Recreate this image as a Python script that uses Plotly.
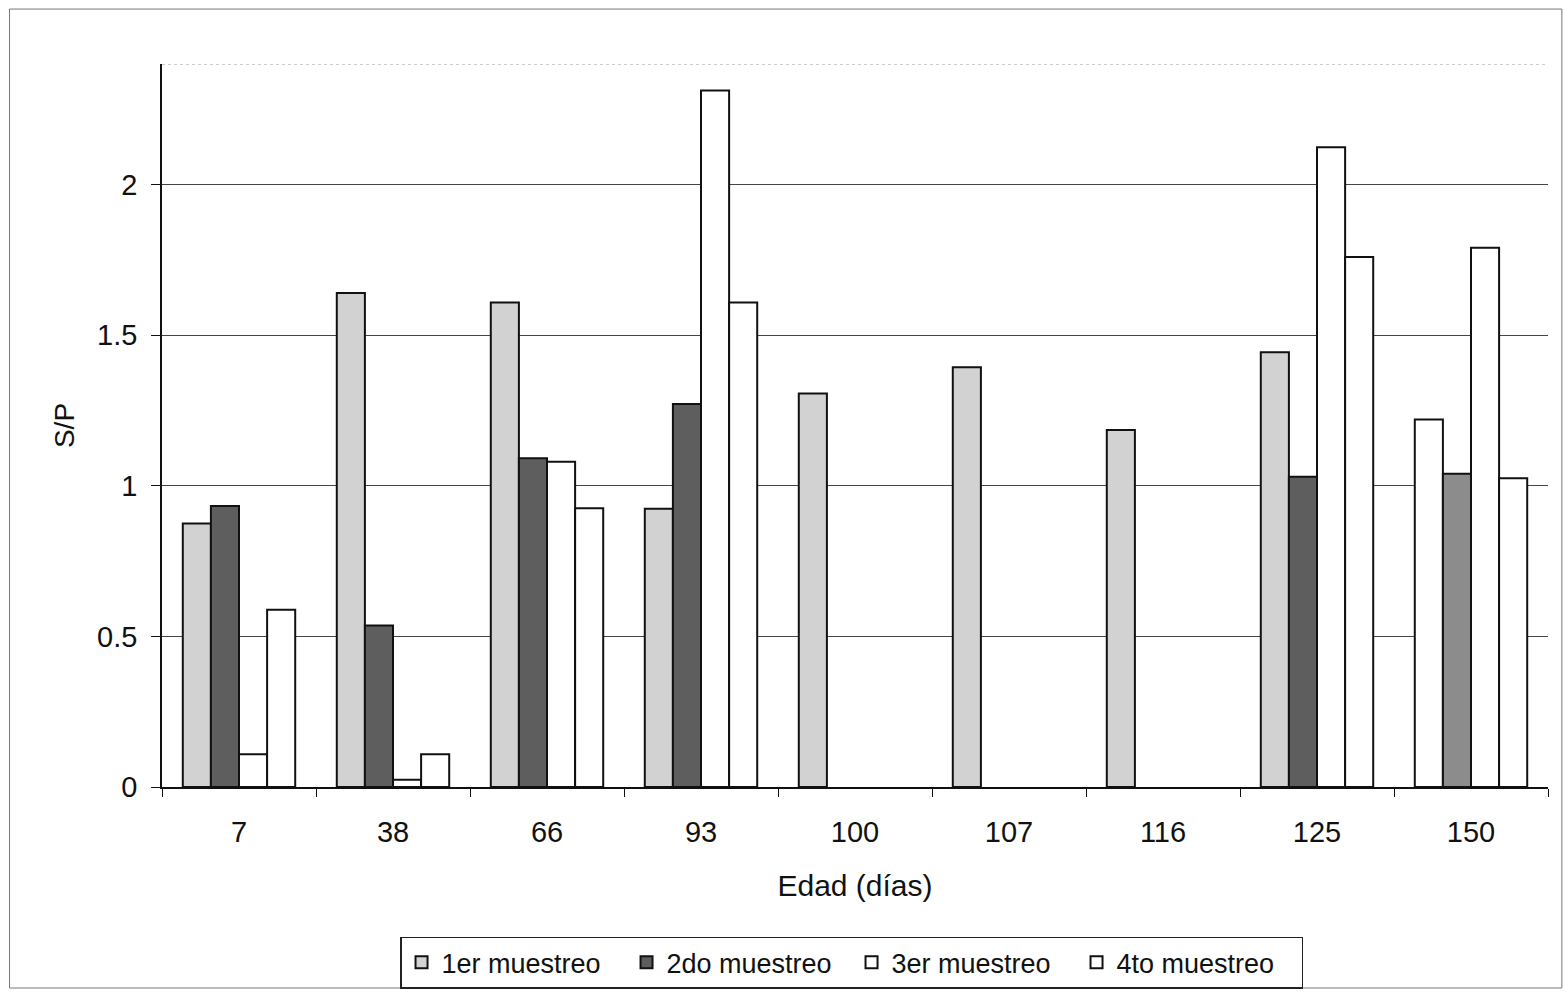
import plotly.graph_objects as go

categories = ["7", "38", "66", "93", "100", "107", "116", "125", "150"]
muestreo1 = [0.875, 1.640, 1.608, 0.924, 1.306, 1.393, 1.185, 1.443, 1.220]
muestreo2 = [0.933, 0.536, 1.091, 1.271, None, None, None, 1.030, 1.040]
muestreo3 = [0.109, 0.024, 1.080, 2.312, None, None, None, 2.124, 1.790]
muestreo4 = [0.588, 0.109, 0.925, 1.608, None, None, None, 1.759, 1.025]
series_names = ["1er muestreo", "2do muestreo", "3er muestreo", "4to muestreo"]
y_ticks = [0, 0.5, 1, 1.5, 2]
y_ticklabels = ["0", "0.5", "1", "1.5", "2"]

FONT = "Liberation Sans, Arial, sans-serif"

# colours as they appear in the scanned picture (last group's shades differ)
c1 = ["#d2d2d2"] * 8 + ["#ffffff"]
c2 = ["#5e5e5e"] * 8 + ["#8c8c8c"]
colors = [c1, c2, "#ffffff", "#ffffff"]

fig = go.Figure()
for name, vals, col in zip(series_names, [muestreo1, muestreo2, muestreo3, muestreo4], colors):
    fig.add_trace(go.Bar(
        x=categories, y=vals, name=name,
        marker=dict(color=col, line=dict(color="#111111", width=2)),
    ))

fig.update_layout(
    width=1566, height=992,
    margin=dict(l=162, r=18, t=64, b=205, autoexpand=False),
    paper_bgcolor="white", plot_bgcolor="white",
    barmode="group", bargap=0.27, bargroupgap=0,
    font=dict(family=FONT, size=29, color="#111111"),
    showlegend=True,
    legend=dict(
        orientation="h", x=0.4975, xanchor="center", y=-0.207, yanchor="top",
        bordercolor="#222222", borderwidth=1.5, font=dict(size=27),
        tracegroupgap=0, itemwidth=30, entrywidth=180,
    ),
    xaxis=dict(
        type="category", showline=True, linecolor="#111111", linewidth=1.5,
        ticks="outside", ticklen=8, tickcolor="#111111", tickson="boundaries",
        showgrid=False, automargin=False, ticklabelstandoff=18,
        title=dict(text="Edad (días)", font=dict(size=30), standoff=28),
        tickfont=dict(size=29),
    ),
    yaxis=dict(
        range=[0, 2.4], tickvals=y_ticks, ticktext=y_ticklabels,
        showline=True, linecolor="#111111", linewidth=1.5,
        ticks="outside", ticklen=9, tickcolor="#111111",
        showgrid=True, gridcolor="#444444", gridwidth=1,
        zeroline=False, automargin=False, ticklabelstandoff=8,
        title=dict(text="S/P", font=dict(size=28), standoff=14),
        tickfont=dict(size=29),
    ),
)

# faint top border of plot area
fig.add_shape(type="line", xref="paper", yref="y", x0=0, x1=1, y0=2.4, y1=2.4,
              line=dict(color="#9a9a9a", width=1, dash="dot"))
# outer chart border
fig.add_shape(type="rect", xref="paper", yref="paper",
              x0=-0.110, x1=1.010, y0=-0.278, y1=1.076,
              line=dict(color="#777777", width=1))

fig.write_html("out.html")
